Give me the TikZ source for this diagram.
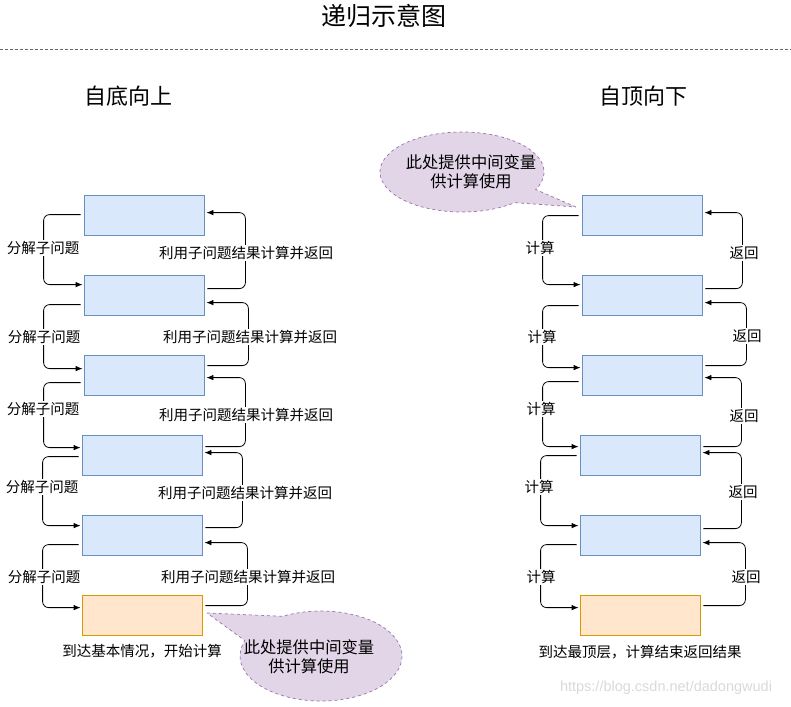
\documentclass[tikz,border=0pt]{standalone}
\usepackage{fontspec}
\newfontfamily\cjk{Noto Sans CJK SC}
\newfontfamily\wmfont{Liberation Sans}
\usetikzlibrary{calc,arrows.meta}
\definecolor{boxfill}{HTML}{DAE8FC}
\definecolor{boxdraw}{HTML}{6C8EBF}
\definecolor{orfill}{HTML}{FFE6CC}
\definecolor{ordraw}{HTML}{D79B00}
\definecolor{clfill}{HTML}{E1D5E7}
\definecolor{cldraw}{HTML}{9673A6}
\begin{document}
\begin{tikzpicture}[x=1pt,y=-1pt,
  bluebox/.style={draw=boxdraw, fill=boxfill, minimum width=120pt, minimum height=40pt, inner sep=0pt, line width=0.8pt},
  orbox/.style={draw=ordraw, fill=orfill, minimum width=120pt, minimum height=40pt, inner sep=0pt, line width=0.8pt},
  conn/.style={draw=black, line width=0.8pt, rounded corners=6pt, -{Latex[length=7pt,width=5.5pt]}},
  lbl/.style={fill=white, inner sep=1pt, font=\cjk\fontsize{14.5}{17}\selectfont},
  plain/.style={inner sep=0pt, font=\cjk\fontsize{14.5}{17}\selectfont},
  callout/.style={draw=cldraw, fill=clfill, dashed, line width=0.7pt},
  ctext/.style={inner sep=0pt, align=center, font=\cjk\fontsize{16.3}{19.5}\selectfont},
  head/.style={inner sep=0pt, font=\cjk\fontsize{22}{26}\selectfont}
]
\useasboundingbox (0,0) rectangle (791,706);

% title and headings
\node[inner sep=0pt, font=\cjk\fontsize{25}{30}\selectfont] (title) at (384,16) {递归示意图};
\coordinate (dl) at (0,49);
\coordinate (dr) at (791,49);
\draw[gray!80!black, line width=0.8pt, dash pattern=on 3pt off 2pt] (dl) -- (dr);
\node[head] (hl) at (128,96) {自底向上};
\node[head] (hr) at (643,96) {自顶向下};

% left column boxes
\node[bluebox] (L1) at (144,215) {};
\node[bluebox] (L2) at (144,295) {};
\node[bluebox] (L3) at (144,375) {};
\node[bluebox] (L4) at (142,455) {};
\node[bluebox] (L5) at (142,535) {};
\node[orbox]   (L6) at (142,615) {};

% right column boxes
\node[bluebox] (R1) at (642,215) {};
\node[bluebox] (R2) at (642,295) {};
\node[bluebox] (R3) at (642,375) {};
\node[bluebox] (R4) at (640,455) {};
\node[bluebox] (R5) at (640,535) {};
\node[orbox]   (R6) at (640,615) {};

% left column connectors: down (left side)
\draw[conn] ($(L1.north west)+(-3,20)$) -- ++(-37,0) |- ($(L2.north west)+(-1,10)$);
\draw[conn] ($(L2.north west)+(-3,30)$) -- ++(-37,0) |- ($(L3.north west)+(-1,14)$);
\draw[conn] ($(L3.north west)+(-3,28)$) -- ++(-37,0) |- ($(L4.north west)+(-1,13)$);
\draw[conn] ($(L4.north west)+(-3,22)$) -- ++(-36,0) |- ($(L5.north west)+(-1,11)$);
\draw[conn] ($(L5.north west)+(-3,30)$) -- ++(-36,0) |- ($(L6.north west)+(-1,13)$);
% left column connectors: up (right side)
\draw[conn] ($(L2.north east)+(3,14)$) -- ++(38,0) |- ($(L1.north east)+(2,18)$);
\draw[conn] ($(L3.north east)+(3,11)$) -- ++(41,0) |- ($(L2.north east)+(2,28)$);
\draw[conn] ($(L4.north east)+(3,12)$) -- ++(40,0) |- ($(L3.north east)+(2,23)$);
\draw[conn] ($(L5.north east)+(3,13)$) -- ++(37,0) |- ($(L4.north east)+(2,18)$);
\draw[conn] ($(L6.north east)+(3,11)$) -- ++(42,0) |- ($(L5.north east)+(2,28)$);

% right column connectors: down (left side)
\draw[conn] ($(R1.north west)+(-3,21)$) -- ++(-36,0) |- ($(R2.north west)+(-1,10)$);
\draw[conn] ($(R2.north west)+(-3,31)$) -- ++(-36,0) |- ($(R3.north west)+(-1,13)$);
\draw[conn] ($(R3.north west)+(-3,27)$) -- ++(-36,0) |- ($(R4.north west)+(-1,12)$);
\draw[conn] ($(R4.north west)+(-3,21)$) -- ++(-36,0) |- ($(R5.north west)+(-1,11)$);
\draw[conn] ($(R5.north west)+(-3,30)$) -- ++(-36,0) |- ($(R6.north west)+(-1,13)$);
% right column connectors: up (right side)
\draw[conn] ($(R2.north east)+(3,14)$) -- ++(37,0) |- ($(R1.north east)+(2,18)$);
\draw[conn] ($(R3.north east)+(3,11)$) -- ++(41,0) |- ($(R2.north east)+(2,28)$);
\draw[conn] ($(R4.north east)+(3,12)$) -- ++(38,0) |- ($(R3.north east)+(2,23)$);
\draw[conn] ($(R5.north east)+(3,14)$) -- ++(38,0) |- ($(R4.north east)+(2,18)$);
\draw[conn] ($(R6.north east)+(3,11)$) -- ++(42,0) |- ($(R5.north east)+(2,28)$);

% left labels
\node[lbl] (la1) at (43,248) {分解子问题};
\node[lbl] (lb1) at (246,253) {利用子问题结果计算并返回};
\node[lbl] (la2) at (44,337) {分解子问题};
\node[lbl] (lb2) at (250,337) {利用子问题结果计算并返回};
\node[lbl] (la3) at (43,409) {分解子问题};
\node[lbl] (lb3) at (246,415) {利用子问题结果计算并返回};
\node[lbl] (la4) at (42,487) {分解子问题};
\node[lbl] (lb4) at (245,493) {利用子问题结果计算并返回};
\node[lbl] (la5) at (44,577) {分解子问题};
\node[lbl] (lb5) at (248,577) {利用子问题结果计算并返回};

% right labels
\node[lbl] (ra1) at (540,248) {计算};
\node[lbl] (rb1) at (744,253) {返回};
\node[lbl] (ra2) at (542,337) {计算};
\node[lbl] (rb2) at (747,336) {返回};
\node[lbl] (ra3) at (541,409) {计算};
\node[lbl] (rb3) at (744,416) {返回};
\node[lbl] (ra4) at (539,487) {计算};
\node[lbl] (rb4) at (743,492) {返回};
\node[lbl] (ra5) at (541,577) {计算};
\node[lbl] (rb5) at (746,577) {返回};

% bottom captions
\node[plain] (capl) at (142,651) {到达基本情况，开始计算};
\node[plain] (capr) at (640,652) {到达最顶层，计算结束返回结果};

% callouts
\coordinate (cB) at (321,656);
\coordinate (tipB) at (207,613);
\path[callout] (tipB) -- ($(cB)+(118:81pt and 45pt)$) arc[start angle=118, end angle=-200, x radius=81pt, y radius=45pt] -- cycle;
\node[ctext] (ctB) at (309,657) {此处提供中间变量\\供计算使用};

\coordinate (cT) at (462,172);
\coordinate (tipT) at (576,207);
\path[callout] (tipT) -- ($(cT)+(-26:82pt and 40pt)$) arc[start angle=-26, end angle=310, x radius=82pt, y radius=40pt] -- cycle;
\node[ctext] (ctT) at (471,172) {此处提供中间变量\\供计算使用};

% watermark
\node[inner sep=0pt, text=gray!30, font=\wmfont\fontsize{14.5}{17}\selectfont] (wm) at (666,688) {https://blog.csdn.net/dadongwudi};
\end{tikzpicture}
\end{document}
